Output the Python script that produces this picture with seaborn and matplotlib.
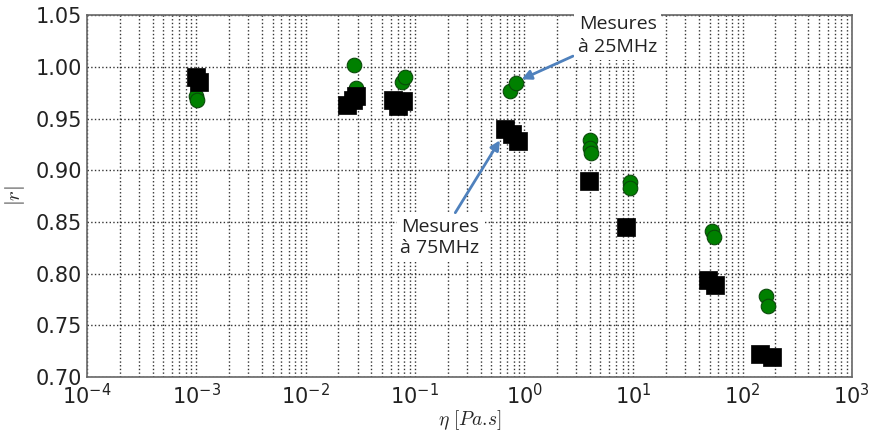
import pandas as pd
import matplotlib.pyplot as plt
import seaborn as sns

# valeurs
eta_25 = [1.0e-3, 1.02e-3, 0.028, 0.029, 0.077, 0.082, 0.74, 0.84,
          4.0, 4.0, 4.1, 9.3, 9.4, 53, 55, 165, 172]
r_25 = [0.972, 0.968, 1.002, 0.980, 0.985, 0.990, 0.977, 0.984,
        0.929, 0.922, 0.917, 0.889, 0.883, 0.841, 0.836, 0.778, 0.769]

eta_75 = [1.0e-3, 1.05e-3, 0.024, 0.027, 0.029, 0.063, 0.07, 0.078,
          0.67, 0.78, 0.88, 3.9, 8.5, 48, 56, 145, 185]
r_75 = [0.990, 0.985, 0.963, 0.968, 0.972, 0.968, 0.962, 0.967,
        0.940, 0.935, 0.928, 0.890, 0.845, 0.794, 0.789, 0.722, 0.719]

df25 = pd.DataFrame({'eta': eta_25, 'r': r_25})
df75 = pd.DataFrame({'eta': eta_75, 'r': r_75})

sns.set_style('white')
plt.rcParams['mathtext.fontset'] = 'cm'

fig = plt.figure(figsize=(8.71, 4.34), dpi=100)
ax = fig.add_axes([0.100, 0.131, 0.878, 0.834])

sns.scatterplot(data=df25, x='eta', y='r', ax=ax, marker='o', s=110,
                color='green', edgecolor='#0a4a0a', linewidth=0.8, zorder=3)
sns.scatterplot(data=df75, x='eta', y='r', ax=ax, marker='s', s=160,
                color='black', edgecolor='black', linewidth=0.5, zorder=4)

ax.set_xscale('log')
ax.set_xlim(1e-4, 1e3)
ax.set_ylim(0.70, 1.05)
ax.set_yticks([0.70, 0.75, 0.80, 0.85, 0.90, 0.95, 1.00, 1.05])
ax.set_yticklabels(['0.70', '0.75', '0.80', '0.85', '0.90', '0.95', '1.00', '1.05'])
xt = [1e-4, 1e-3, 1e-2, 1e-1, 1e0, 1e1, 1e2, 1e3]
ax.set_xticks(xt)
ax.set_xticklabels(['$\\mathdefault{10^{%d}}$' % e for e in range(-4, 4)])
ax.tick_params(axis='both', which='both', direction='in', labelsize=15, colors='#222222')
ax.tick_params(axis='x', pad=4)

ax.grid(True, which='major', linestyle=':', color='#333333', linewidth=1.0)
ax.grid(True, which='minor', axis='x', linestyle=':', color='#333333', linewidth=1.0)
for sp in ax.spines.values():
    sp.set_color('#666666')
    sp.set_linewidth(1.2)

ax.set_xlabel(r'$\eta\ [Pa.\!s]$', fontsize=14, labelpad=0)
ax.set_ylabel(r'$|r|$', fontsize=15, labelpad=6)

# annotations
box = dict(boxstyle='square,pad=0.2', facecolor='white', edgecolor='none')
arrow = dict(arrowstyle='-|>', color='#4f81bd', lw=2, shrinkA=1, shrinkB=0,
             mutation_scale=14)
ax.annotate('Mesures\nà 25MHz', xy=(0.95, 0.988), xytext=(7.2, 1.030),
            fontsize=14, family='Open Sans', ha='center', va='center',
            color='#222222', bbox=box, linespacing=1.35,
            arrowprops=arrow, zorder=5)
ax.annotate('Mesures\nà 75MHz', xy=(0.60, 0.929), xytext=(0.17, 0.835),
            fontsize=14, family='Open Sans', ha='center', va='center',
            color='#222222', bbox=box, linespacing=1.25,
            arrowprops=arrow, zorder=5)

fig.savefig('out.png', dpi=100)
